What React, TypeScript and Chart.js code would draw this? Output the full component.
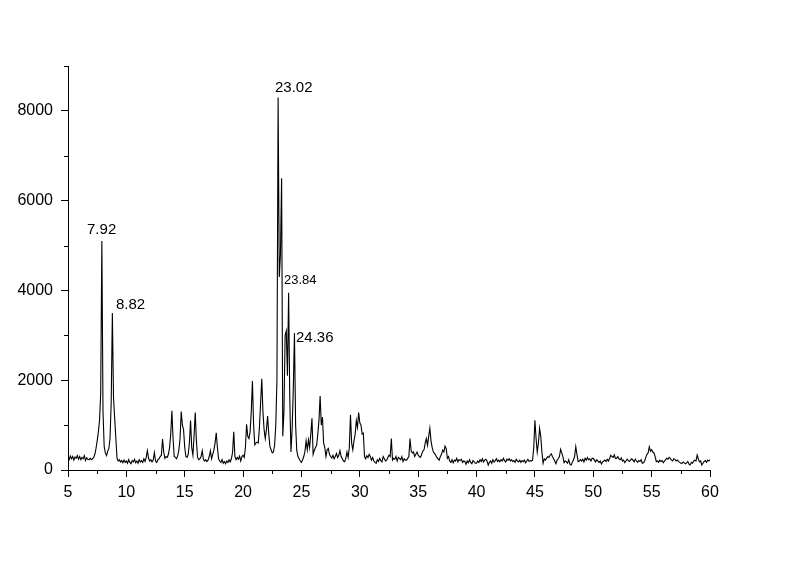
import React, { useEffect, useRef } from "react";
import { Chart, registerables } from "chart.js";

Chart.register(...registerables);

// 2θ grid: start angle and step (degrees)
const startAngle = 5;
const stepAngle = 0.1;

// Intensity readings (counts), 0.1° apart
const intensity5to15 = [
  280, 230, 310, 250, 300, 220, 290, 260, 320, 240,
  300, 230, 280, 250, 320, 210, 270, 240, 230, 260,
  230, 250, 280, 350, 480, 650, 850, 1100, 1700, 5100,
  1300, 520, 380, 320, 420, 480, 700, 1500, 3500, 1600,
  1150, 700, 260, 200, 230, 180, 210, 160, 220, 170,
  200, 150, 230, 170, 140, 210, 180, 240, 160, 200,
  150, 230, 180, 210, 170, 250, 190, 280, 430, 260,
  200, 230, 180, 220, 390, 200, 170, 230, 250, 300,
  330, 690, 400, 260, 300, 280, 350, 500, 800, 1320,
  700, 300, 280, 250, 320, 450, 700, 1300, 1000, 900,
];
const intensity15to25 = [
  500, 300, 280, 350, 600, 1100, 500, 330, 750, 1280,
  650, 280, 230, 250, 300, 430, 240, 200, 230, 190,
  220, 300, 430, 250, 350, 450, 600, 830, 500, 250,
  200, 170, 230, 150, 190, 140, 200, 170, 230, 180,
  250, 400, 850, 300, 230, 280, 240, 310, 200, 300,
  330, 280, 500, 1020, 750, 700, 850, 1300, 1980, 1000,
  560, 600, 620, 600, 950, 1500, 2030, 1300, 900, 700,
  900, 1200, 800, 520, 450, 380, 400, 550, 1000, 2000,
  8300, 4300, 4800, 6500, 750, 1300, 3000, 3100, 2100, 3950,
  1600, 400, 900, 1800, 3050, 1000, 430, 300, 250, 200,
];
const intensity25to35 = [
  170, 230, 300, 420, 650, 450, 670, 500, 800, 1150,
  350, 440, 500, 550, 800, 1100, 1650, 1000, 1180, 600,
  500, 300, 450, 480, 350, 300, 270, 330, 250, 300,
  370, 280, 330, 430, 300, 250, 200, 185, 260, 400,
  280, 500, 1230, 600, 450, 650, 800, 1100, 950, 1280,
  1050, 1000, 800, 820, 300, 250, 320, 280, 350, 300,
  220, 280, 200, 170, 150, 230, 190, 260, 210, 180,
  300, 250, 200, 220, 280, 330, 300, 700, 220, 260,
  240, 300, 200, 280, 260, 230, 300, 190, 250, 220,
  220, 260, 300, 700, 420, 380, 400, 300, 350, 400,
];
const intensity35to45 = [
  330, 300, 280, 350, 420, 450, 600, 700, 550, 750,
  930, 650, 500, 400, 370, 330, 280, 250, 220, 300,
  350, 444, 400, 530, 480, 260, 300, 200, 170, 230,
  160, 220, 200, 260, 180, 230, 210, 240, 170, 200,
  190, 130, 200, 160, 230, 170, 140, 210, 180, 150,
  150, 200, 170, 230, 190, 250, 180, 220, 240, 200,
  110, 170, 200, 150, 230, 180, 210, 250, 190, 220,
  185, 230, 200, 260, 210, 180, 240, 220, 250, 200,
  230, 190, 210, 170, 240, 200, 180, 220, 170, 210,
  185, 220, 160, 200, 240, 190, 210, 200, 220, 500,
];
const intensity45to55 = [
  1110, 700, 400, 600, 930, 750, 400, 150, 250, 220,
  260, 300, 280, 330, 360, 300, 250, 200, 140, 220,
  250, 300, 460, 380, 300, 165, 200, 180, 150, 230,
  130, 110, 170, 220, 300, 520, 350, 185, 200, 230,
  200, 240, 180, 260, 220, 280, 230, 250, 200, 260,
  260, 220, 180, 230, 200, 170, 200, 133, 180, 200,
  220, 190, 240, 200, 260, 330, 300, 280, 340, 260,
  260, 300, 250, 230, 270, 200, 220, 163, 200, 240,
  210, 190, 230, 250, 220, 180, 240, 200, 170, 210,
  190, 230, 150, 160, 200, 280, 350, 380, 520, 420,
];
const intensity55to60 = [
  450, 400, 380, 300, 185, 200, 170, 220, 190, 210,
  163, 200, 230, 260, 240, 280, 259, 220, 200, 250,
  237, 200, 220, 190, 170, 150, 148, 180, 160, 140,
  160, 190, 130, 111, 170, 150, 200, 220, 200, 333,
  250, 180, 200, 111, 150, 190, 210, 170, 220, 200,
  230,
];

// Peak annotations
const peakLabels = ["7.92", "8.82", "23.02", "23.84", "24.36"];
const peakLabelX = [6.63, 9.11, 22.73, 23.5, 24.53];
const peakLabelY = [5356, 3689, 8511, 4222, 2933];
const peakLabelSize = [15, 15, 15, 13, 15];

// Axis ranges
const xMin = 5;
const xMax = 60;
const xStep = 2.5;
const yMin = 0;
const yMax = 9000;
const yStep = 1000;

const FONT = "'Liberation Sans', Arial, Helvetica, sans-serif";

export default function App() {
  const canvasRef = useRef<HTMLCanvasElement | null>(null);

  useEffect(() => {
    const canvas = canvasRef.current;
    if (!canvas) return;
    const intensity = [
      ...intensity5to15,
      ...intensity15to25,
      ...intensity25to35,
      ...intensity35to45,
      ...intensity45to55,
      ...intensity55to60,
    ];
    const points = intensity.map((y, i) => ({
      x: Math.round((startAngle + i * stepAngle) * 10) / 10,
      y,
    }));

    const extras = {
      id: "extras",
      afterDraw(chart: any) {
        const ctx = chart.ctx;
        const xs = chart.scales.x;
        const ys = chart.scales.y;
        ctx.save();
        ctx.strokeStyle = "#000";
        ctx.lineWidth = 1;
        ctx.beginPath();
        xs.ticks.forEach((t: any) => {
          if (Math.abs(t.value % 5) > 1e-6) {
            const px = Math.round(xs.getPixelForValue(t.value)) + 0.5;
            ctx.moveTo(px, ys.bottom);
            ctx.lineTo(px, ys.bottom + 4);
          }
        });
        ys.ticks.forEach((t: any) => {
          if (t.value % 2000 !== 0) {
            const py = Math.round(ys.getPixelForValue(t.value)) + 0.5;
            ctx.moveTo(xs.left, py);
            ctx.lineTo(xs.left - 4, py);
          }
        });
        ctx.stroke();
        ctx.fillStyle = "#000";
        ctx.textAlign = "left";
        ctx.textBaseline = "middle";
        peakLabels.forEach((txt, i) => {
          ctx.font = `${peakLabelSize[i]}px ${FONT}`;
          ctx.fillText(
            txt,
            xs.getPixelForValue(peakLabelX[i]),
            ys.getPixelForValue(peakLabelY[i])
          );
        });
        ctx.restore();
      },
    };

    const chart = new Chart(canvas, {
      type: "line",
      data: {
        datasets: [
          {
            data: points,
            borderColor: "#000",
            borderWidth: 1.1,
            pointRadius: 0,
            tension: 0,
            fill: false,
          },
        ],
      },
      options: {
        animation: false,
        responsive: false,
        devicePixelRatio: 1,
        layout: { padding: { left: 0, right: 90, top: 66, bottom: 0 } },
        plugins: {
          legend: { display: false },
          tooltip: { enabled: false },
        },
        scales: {
          x: {
            type: "linear",
            min: xMin,
            max: xMax,
            afterFit: (s: any) => {
              s.height = 95;
            },
            border: { display: true, color: "#000", width: 1 },
            grid: {
              drawOnChartArea: false,
              drawTicks: true,
              tickLength: 7,
              tickColor: (c: any) =>
                c.tick && Math.abs(c.tick.value % 5) < 1e-6 ? "#000" : "rgba(0,0,0,0)",
            },
            ticks: {
              stepSize: xStep,
              autoSkip: false,
              maxRotation: 0,
              color: "#000",
              padding: 6,
              font: { family: FONT, size: 16 },
              callback: (v: any) => (Math.abs(Number(v) % 5) < 1e-6 ? String(v) : ""),
            },
          },
          y: {
            type: "linear",
            min: yMin,
            max: yMax,
            afterFit: (s: any) => {
              s.width = 68;
            },
            border: { display: true, color: "#000", width: 1 },
            grid: {
              drawOnChartArea: false,
              drawTicks: true,
              tickLength: 7,
              tickColor: (c: any) =>
                c.tick && c.tick.value % 2000 === 0 ? "#000" : "rgba(0,0,0,0)",
            },
            ticks: {
              stepSize: yStep,
              autoSkip: false,
              color: "#000",
              padding: 8,
              font: { family: FONT, size: 16 },
              callback: (v: any) => (Number(v) % 2000 === 0 ? String(v) : ""),
            },
          },
        },
      },
      plugins: [extras],
    });
    return () => chart.destroy();
  }, []);

  return (
    <div style={{ position: "absolute", left: 0, top: 0, width: 800, height: 565, background: "#fff" }}>
      <canvas ref={canvasRef} width={800} height={565} />
    </div>
  );
}
